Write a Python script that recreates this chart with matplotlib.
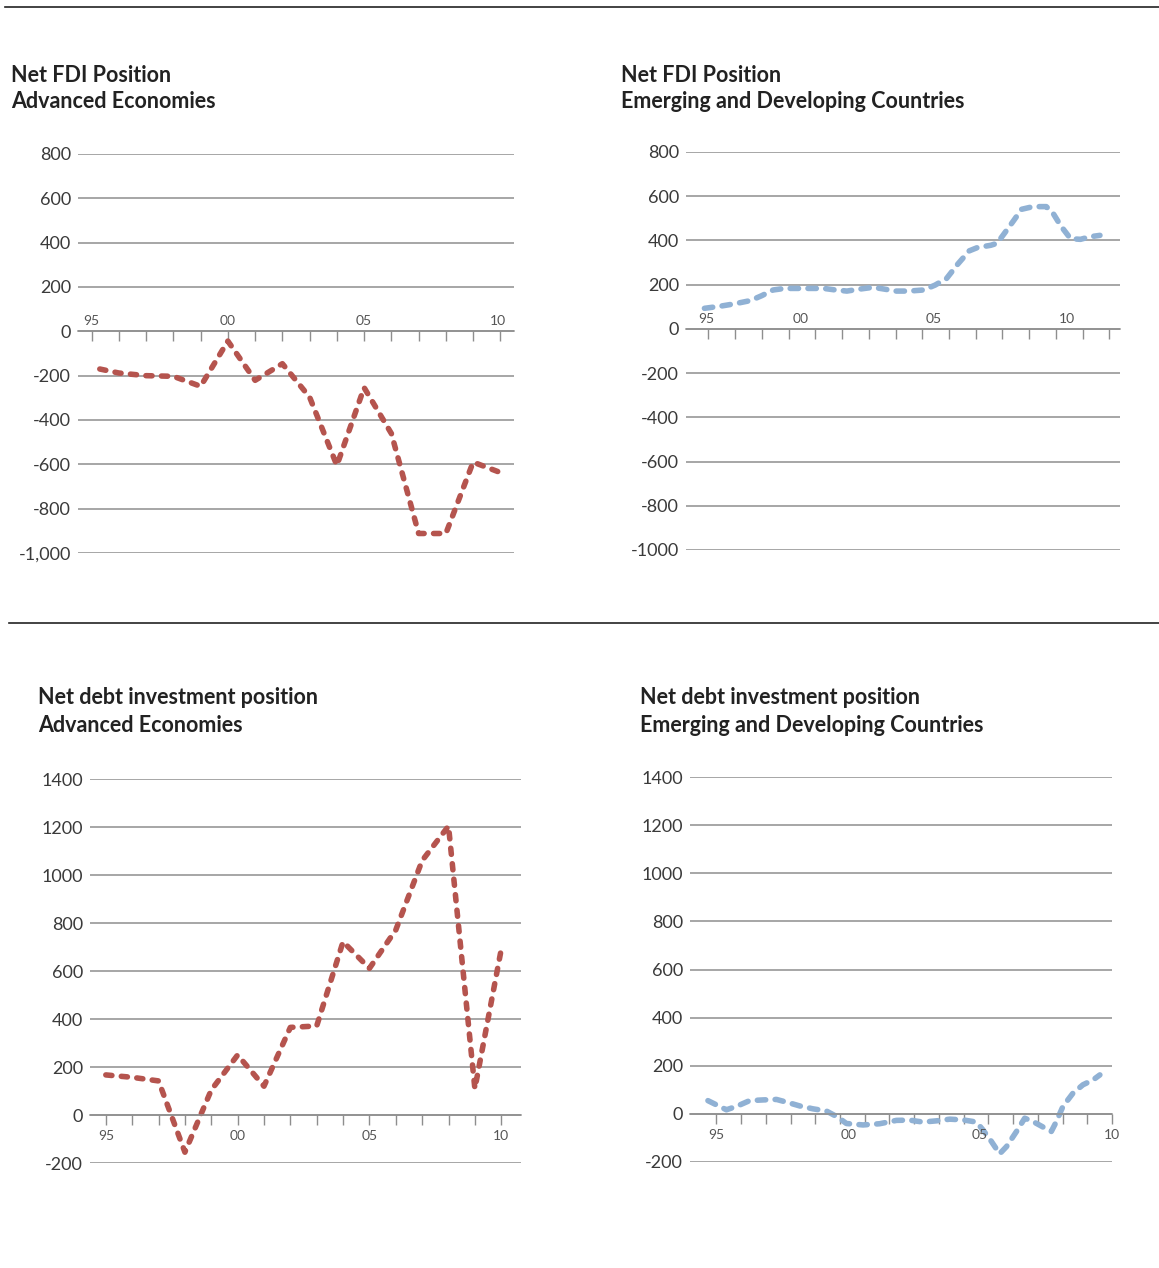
import numpy as np
import matplotlib
matplotlib.use("Agg")
import matplotlib.pyplot as plt
from matplotlib.lines import Line2D

W, H = 1159, 1268

# ---- data ----
# Net FDI position, advanced economies (bn)
fdi_adv_years = [1995.3, 1996, 1997, 1998, 1999, 2000, 2001, 2002, 2003, 2004,
                 2005, 2006, 2007, 2008, 2009, 2010]
fdi_adv_vals = [-170, -188, -200, -203, -248, -44, -221, -146, -297, -605,
                -254, -461, -912, -912, -590, -637]

# Net FDI position, emerging and developing (smoothed line, sub-annual points)
fdi_em_years = [1996.41, 1996.97, 1997.52, 1998.13, 1998.55, 1998.98, 1999.41,
                2000.02, 2000.33, 2000.88, 2001.25, 2001.74, 2002.22, 2002.72,
                2003.14, 2003.57, 2004.06, 2004.61, 2005.04, 2005.47, 2005.89,
                2006.32, 2006.63, 2007.12, 2007.36, 2007.61, 2007.97, 2008.28,
                2008.71, 2009.2, 2009.44, 2009.75, 2010.11, 2010.48, 2010.85,
                2011.21]
fdi_em_vals = [93, 102, 113, 128, 150, 176, 183, 183, 183, 183, 177, 171, 180,
               188, 180, 171, 171, 176, 198, 228, 293, 353, 368, 378, 387, 428,
               488, 541, 553, 553, 526, 465, 408, 405, 417, 423]

# Net debt investment position, advanced economies
debt_adv_years = list(range(1995, 2011))
debt_adv_vals = [167, 157, 142, -155, 104, 250, 120, 365, 371, 722, 611, 771,
                 1060, 1204, 110, 690]

# Net debt investment position, emerging and developing
debt_em_years = [1994.68, 1995.38, 1995.76, 1996.26, 1996.77, 1997.28, 1997.72,
                 1998.16, 1998.66, 1999.17, 1999.61, 1999.93, 2000.56, 2001.19,
                 2001.83, 2002.33, 2002.83, 2003.34, 2003.85, 2004.35, 2004.86,
                 2005.11, 2005.43, 2005.74, 2006.0, 2006.38, 2006.69, 2007.01,
                 2007.39, 2007.7, 2007.89, 2008.14, 2008.52, 2008.9, 2009.28,
                 2009.54]
debt_em_vals = [55, 17, 31, 55, 58, 60, 47, 33, 21, 12, -14, -40, -46, -41,
                -27, -26, -34, -29, -22, -25, -34, -67, -115, -166, -136, -73,
                -18, -32, -55, -73, -32, 31, 86, 121, 141, 162]

fdi_ticks = [800, 600, 400, 200, 0, -200, -400, -600, -800, -1000]
fdi_adv_labels = ["800", "600", "400", "200", "0", "-200", "-400", "-600", "-800", "-1,000"]
fdi_em_labels = ["800", "600", "400", "200", "0", "-200", "-400", "-600", "-800", "-1000"]
debt_ticks = [1400, 1200, 1000, 800, 600, 400, 200, 0, -200]
debt_labels = ["1400", "1200", "1000", "800", "600", "400", "200", "0", "-200"]
year_labels = ["95", "00", "05", "10"]

RED = "#b5544e"
BLUE = "#90b1d4"
GRID = "#8e8e8e"
TXT = "#3a3a3a"

plt.rcParams["font.family"] = ["Lato", "DejaVu Sans"]

fig = plt.figure(figsize=(W / 100, H / 100), dpi=100)


def make_ax(left, right, top, bottom):
    return fig.add_axes([left / W, 1 - bottom / H, (right - left) / W, (bottom - top) / H])


def style(ax, yticks, ylabels, xlim, xticks, lab_pos, lab_above):
    ax.set_ylim(min(yticks), max(yticks))
    ax.set_xlim(*xlim)
    ax.set_yticks(yticks)
    ax.set_yticklabels(ylabels, fontsize=13, color=TXT)
    ax.tick_params(axis="y", length=0, pad=5)
    ax.grid(axis="y", color=GRID, linewidth=1.1)
    ax.set_axisbelow(True)
    for s in ["top", "right", "left"]:
        ax.spines[s].set_visible(False)
    ax.spines["bottom"].set_position(("data", 0))
    ax.spines["bottom"].set_color(GRID)
    ax.spines["bottom"].set_linewidth(1.1)
    ax.set_xticks(xticks)
    ax.tick_params(axis="x", direction="out", length=7.5, width=1, color=GRID,
                   labelbottom=False)
    for p, t in zip(lab_pos, year_labels):
        if lab_above:
            ax.annotate(t, (p, 0), xytext=(0, 3), textcoords="offset points",
                        ha="center", va="bottom", fontsize=10, color="#555555")
        else:
            ax.annotate(t, (p, 0), xytext=(0, -11), textcoords="offset points",
                        ha="center", va="top", fontsize=10, color="#555555")


def title(x, y, l1, l2):
    fig.text(x / W, 1 - y / H, l1, fontsize=15.5, fontweight="bold", color="#222222", va="center")
    fig.text(x / W, 1 - (y + 27) / H, l2, fontsize=15.5, fontweight="bold", color="#222222", va="center")


line_kw = dict(lw=4.0, dash_capstyle="round", solid_capstyle="round")

# panel 1
ax1 = make_ax(78, 514, 154, 553)
style(ax1, fdi_ticks, fdi_adv_labels, (1994.5, 2010.5), list(range(1995, 2011)),
      [1995, 2000, 2005, 2009.9], True)
ax1.plot(fdi_adv_years, fdi_adv_vals, color=RED, dashes=(1.1, 1.7), **line_kw)
title(11, 75, "Net FDI Position", "Advanced Economies")

# panel 2
ax2 = make_ax(686, 1120, 152, 550)
style(ax2, fdi_ticks, fdi_em_labels, (1995.72, 2011.96), [1996.56 + k for k in range(16)],
      [1996.49, 2000, 2005, 2009.96], True)
ax2.plot(fdi_em_years, fdi_em_vals, color=BLUE, dashes=(1.5, 1.7), **line_kw)
title(621, 75, "Net FDI Position", "Emerging and Developing Countries")

# panel 3
ax3 = make_ax(90, 521, 779, 1163)
style(ax3, debt_ticks, debt_labels, (1994.4, 2010.75), list(range(1995, 2011)),
      [1995, 2000, 2005, 2010], False)
ax3.plot(debt_adv_years, debt_adv_vals, color=RED, dashes=(1.1, 1.7), **line_kw)
title(38, 698, "Net debt investment position", "Advanced Economies")

# panel 4
ax4 = make_ax(690, 1112, 777, 1162)
style(ax4, debt_ticks, debt_labels, (1994.0, 2010.0), list(np.linspace(1995, 2010, 17)),
      [1995, 2000, 2005, 2010], False)
ax4.plot(debt_em_years, debt_em_vals, color=BLUE, dashes=(1.5, 1.7), **line_kw)
title(640, 698, "Net debt investment position", "Emerging and Developing Countries")

# separator rules
fig.add_artist(Line2D([5 / W, 1], [1 - 7 / H] * 2, color="#222222", lw=1.2))
fig.add_artist(Line2D([9 / W, 1], [1 - 623 / H] * 2, color="#222222", lw=1.2))

fig.savefig("out.png", dpi=100)
